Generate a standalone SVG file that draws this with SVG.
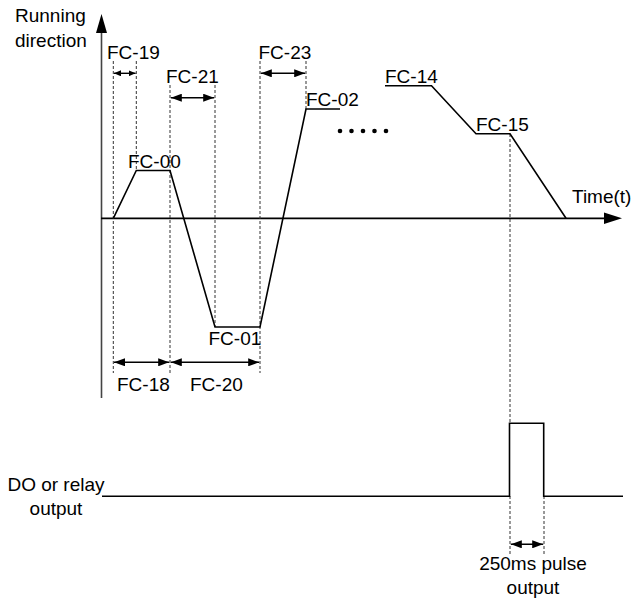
<svg xmlns="http://www.w3.org/2000/svg" width="633" height="600" viewBox="0 0 633 600">
<defs>
<style>
text{font-family:"Liberation Sans",Arial,sans-serif;font-size:19px;fill:#000}
.ax{stroke:#000;stroke-width:1.8;fill:none}
.pr{stroke:#000;stroke-width:1.6;fill:none;stroke-linejoin:miter}
.dash{stroke:#333;stroke-width:1;stroke-dasharray:3,2;fill:none}
.dim{stroke:#000;stroke-width:1.6;fill:none;marker-start:url(#ah);marker-end:url(#ah)}
.dims{stroke:#000;stroke-width:1.4;fill:none;marker-start:url(#ahs);marker-end:url(#ahs)}
</style>
<marker id="ah" viewBox="0 0 11 8" refX="11" refY="4" markerWidth="11" markerHeight="8" markerUnits="userSpaceOnUse" orient="auto-start-reverse"><path d="M0,0 L11,4 L0,8 z" fill="#000"/></marker>
<marker id="ahs" viewBox="0 0 7 6" refX="7" refY="3" markerWidth="7" markerHeight="6" markerUnits="userSpaceOnUse" orient="auto-start-reverse"><path d="M0,0 L7,3 L0,6 z" fill="#000"/></marker>
</defs>
<rect width="633" height="600" fill="#fff"/>

<g id="axes">
<line class="ax" x1="101.5" y1="398" x2="101.5" y2="30" style="stroke:#444;stroke-width:1.6"/>
<polygon points="101.5,14 96,33 107,33" fill="#000"/>
<line class="ax" x1="101" y1="218.3" x2="606" y2="218.3"/>
<polygon points="622,218.3 604,212.5 604,224" fill="#000"/>
<text x="15" y="21.5">Running</text>
<text x="15" y="46.5">direction</text>
<text x="572" y="203">Time(t)</text>
</g>

<g id="guides">
<line class="dash" x1="113.3" y1="61" x2="113.3" y2="373"/>
<line class="dash" x1="136.3" y1="61" x2="136.3" y2="170"/>
<line class="dash" x1="170" y1="85" x2="170" y2="373"/>
<line class="dash" x1="215" y1="85" x2="215" y2="327"/>
<line class="dash" x1="260" y1="61" x2="260" y2="373"/>
<line class="dash" x1="306" y1="61" x2="306" y2="109"/>
<line class="dash" x1="510" y1="134" x2="510" y2="423"/>
<line class="dash" x1="510" y1="496" x2="510" y2="555"/>
<line class="dash" x1="544" y1="496" x2="544" y2="555"/>
</g>

<g id="speed-profile">
<polyline class="pr" points="113.3,218.3 136.3,170.5 170,170.5 215,327 260,327 306,109 340,109"/>
<polyline class="pr" points="385,85.7 431.5,85.7 476,133.7 510,133.7 566,218.3"/>
<g fill="#000">
<circle cx="340" cy="131" r="2.3"/>
<circle cx="351.5" cy="131" r="2.3"/>
<circle cx="363" cy="131" r="2.3"/>
<circle cx="374.5" cy="131" r="2.3"/>
<circle cx="386" cy="131" r="2.3"/>
</g>
</g>

<g id="labels">
<text x="128" y="168">FC-00</text>
<text x="208.5" y="345">FC-01</text>
<text x="306" y="106">FC-02</text>
<text x="385" y="82.5">FC-14</text>
<text x="476" y="131">FC-15</text>
<text x="107" y="59">FC-19</text>
<text x="166" y="82.5">FC-21</text>
<text x="258.5" y="59">FC-23</text>
<text x="117" y="390.5">FC-18</text>
<text x="190" y="390.5">FC-20</text>
</g>

<g id="connectors">
<line class="dims" x1="114" y1="73.3" x2="135.6" y2="73.3"/>
<line class="dim" x1="170.8" y1="97.7" x2="214.2" y2="97.7"/>
<line class="dim" x1="260.8" y1="73.3" x2="305.2" y2="73.3"/>
<line class="dim" x1="114" y1="362.3" x2="169.2" y2="362.3"/>
<line class="dim" x1="170.8" y1="362.3" x2="259.2" y2="362.3"/>
<line class="dim" x1="510.8" y1="544.3" x2="543.2" y2="544.3"/>
</g>

<g id="do-output">
<polyline class="pr" points="102,496.3 509.5,496.3 509.5,423.3 543.7,423.3 543.7,496.3 623,496.3"/>
<text x="56" y="491" text-anchor="middle">DO or relay</text>
<text x="56" y="515" text-anchor="middle">output</text>
<text x="533" y="570" text-anchor="middle">250ms pulse</text>
<text x="533" y="594" text-anchor="middle">output</text>
</g>
</svg>
